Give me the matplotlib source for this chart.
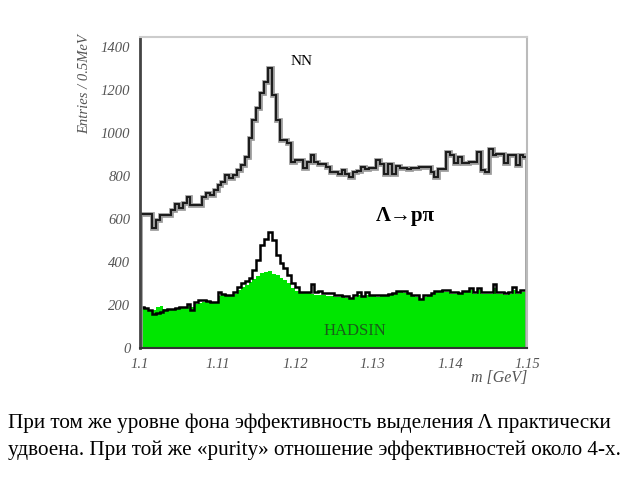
import numpy as np
import matplotlib
matplotlib.use("Agg")
import matplotlib.pyplot as plt

plt.rcParams['font.family'] = ['Liberation Serif', 'DejaVu Serif']

# bin edges: 100 bins of 0.5 MeV from 1.100 to 1.150 GeV
m_lo, m_hi, n_bins = 1.10, 1.15, 100

# NN selection (upper black histogram)
nn_counts = [622, 622, 622, 557, 594, 617, 617, 617, 640, 668,
             650, 673, 700, 663, 663, 663, 700, 719, 710, 733,
             756, 770, 803, 789, 803, 826, 849, 886, 974, 1058,
             1114, 1183, 1234, 1300, 1174, 1058, 965, 965, 951, 863,
             872, 872, 835, 863, 895, 863, 854, 854, 840, 817,
             817, 807, 826, 807, 793, 817, 820, 840, 830, 838,
             838, 872, 854, 810, 854, 810, 845, 835, 835, 830,
             835, 835, 840, 840, 840, 817, 795, 830, 830, 911,
             897, 858, 888, 858, 858, 866, 866, 911, 826, 817,
             926, 895, 900, 900, 858, 895, 895, 850, 895, 888]

# HADSIN selection, black outline
hadsin_counts = [190, 188, 175, 160, 162, 165, 175, 180, 182, 185,
                 190, 192, 206, 175, 214, 222, 222, 218, 214, 214,
                 262, 250, 246, 246, 262, 284, 300, 310, 323, 362,
                 408, 478, 505, 540, 500, 430, 395, 370, 340, 300,
                 285, 261, 261, 261, 296, 261, 266, 255, 255, 255,
                 246, 246, 241, 241, 233, 246, 261, 241, 261, 246,
                 246, 246, 246, 246, 250, 255, 266, 266, 266, 257,
                 246, 246, 226, 246, 246, 257, 266, 266, 271, 271,
                 260, 260, 257, 266, 266, 280, 261, 280, 261, 261,
                 261, 297, 261, 261, 254, 261, 284, 261, 271, 271]

# green filled histogram
green_counts = [180, 182, 178, 175, 190, 195, 180, 180, 182, 185,
                188, 190, 195, 190, 205, 210, 215, 215, 212, 210,
                240, 245, 240, 240, 250, 270, 284, 295, 306, 320,
                335, 350, 355, 360, 345, 338, 325, 315, 300, 280,
                265, 257, 257, 255, 250, 246, 245, 244, 242, 240,
                238, 236, 235, 233, 228, 238, 245, 235, 245, 240,
                240, 238, 240, 240, 245, 250, 258, 258, 255, 250,
                240, 238, 222, 238, 240, 250, 258, 258, 262, 262,
                252, 252, 250, 258, 258, 268, 252, 270, 252, 252,
                252, 280, 252, 252, 246, 252, 270, 252, 262, 262]

y_ticks = [0, 200, 400, 600, 800, 1000, 1200, 1400]
x_ticks = [1.10, 1.11, 1.12, 1.13, 1.14, 1.15]
x_ticklabels = ['1.1', '1.11', '1.12', '1.13', '1.14', '1.15']

caption = ("При том же уровне фона эффективность выделения Λ практически\n"
           "удвоена. При той же «purity» отношение эффективностей около 4-х.")

edges = np.linspace(m_lo, m_hi, n_bins + 1)

fig = plt.figure(figsize=(6.4, 4.8), dpi=100)
ax = fig.add_axes([0.219, 0.275, 0.605, 0.648])

ax.stairs(green_counts, edges, fill=True, color='#00e600', linewidth=0)
ax.stairs(hadsin_counts, edges, color='black', linewidth=1.8, baseline=None)
ax.stairs(nn_counts, edges, color='#9a9a9a', linewidth=3.4, baseline=0)
ax.stairs(nn_counts, edges, color='#1a1a1a', linewidth=1.4, baseline=0)

ax.set_xlim(m_lo, m_hi)
ax.set_ylim(0, 1445)
ax.set_xticks(x_ticks)
ax.set_xticklabels(x_ticklabels)
ax.set_yticks(y_ticks)
ax.tick_params(length=0, pad=7, labelsize=10.5, labelcolor='#555555')
for lab in ax.get_xticklabels() + ax.get_yticklabels():
    lab.set_style('italic')

ax.spines['left'].set_color('#444444')
ax.spines['left'].set_linewidth(2)
ax.spines['bottom'].set_color('#333333')
ax.spines['bottom'].set_linewidth(1.5)
ax.spines['top'].set_color('#cccccc')
ax.spines['top'].set_linewidth(1.5)
ax.spines['right'].set_color('#bbbbbb')
ax.spines['right'].set_linewidth(1.5)

ax.text(1.1209, 1332, 'NN', ha='center', va='center', fontsize=11)
ax.text(1.1342, 612, 'Λ→pπ', ha='center', va='center', fontsize=15,
        fontweight='bold')
ax.text(1.1277, 79, 'HADSIN', ha='center', va='center', fontsize=12,
        color='#1a5c1a')

fig.text(85 / 640, 1 - 34 / 480, 'Entries / 0.5MeV', rotation=90,
         ha='center', va='top', fontsize=10.5, style='italic', color='#555555')
fig.text(527 / 640, 1 - 378 / 480, 'm [GeV]', ha='right', va='center',
         fontsize=11.5, style='italic', color='#555555')

fig.text(8 / 640, 1 - 437 / 480, caption, ha='left', va='center',
         fontsize=15.2, linespacing=1.5)

fig.savefig('out.png', dpi=100)
